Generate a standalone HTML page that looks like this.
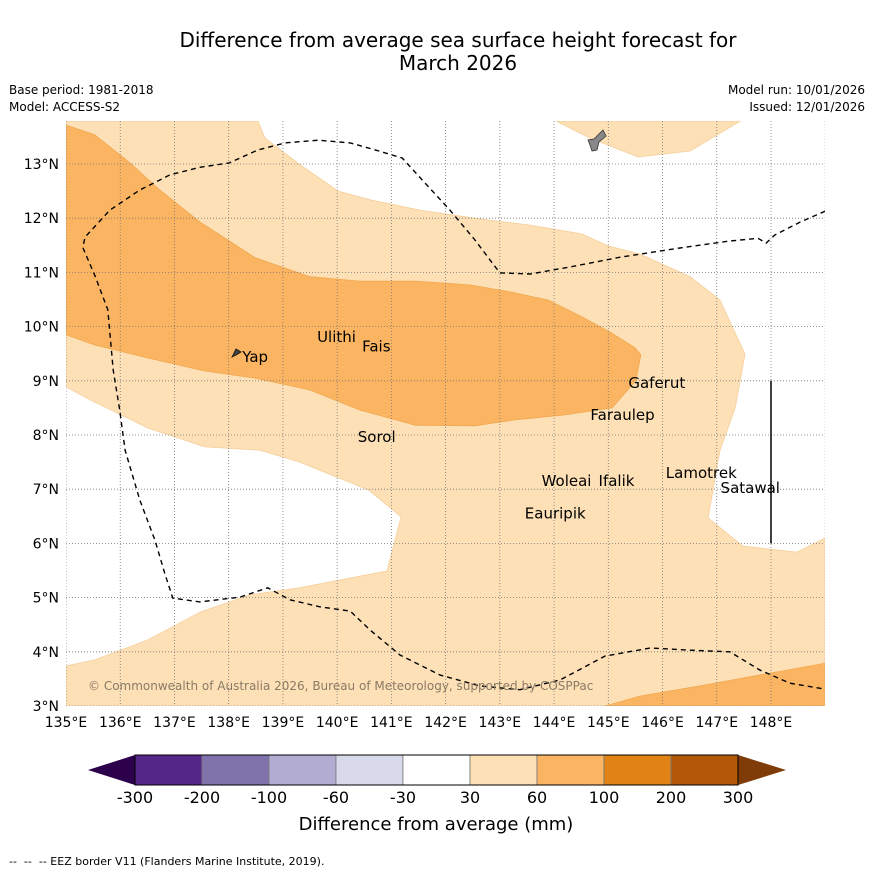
<!DOCTYPE html>
<html><head><meta charset="utf-8"><style>
body{margin:0;background:#fff;}
svg{display:block;font-family:"DejaVu Sans","Liberation Sans",sans-serif;}
</style></head><body>
<svg id="fig" width="873" height="873" viewBox="0 0 873 873">
<rect width="873" height="873" fill="#fff"/>
<text x="458" y="47" font-size="20" text-anchor="middle">Difference from average sea surface height forecast for</text>
<text x="458" y="70" font-size="20" text-anchor="middle">March 2026</text>
<text x="9" y="94" font-size="12">Base period: 1981-2018</text>
<text x="9" y="111" font-size="12">Model: ACCESS-S2</text>
<text x="865" y="94" font-size="12" text-anchor="end">Model run: 10/01/2026</text>
<text x="865" y="111" font-size="12" text-anchor="end">Issued: 12/01/2026</text>
<defs><clipPath id="mapclip"><rect x="66" y="121" width="759" height="585"/></clipPath></defs>
<g id="map" clip-path="url(#mapclip)"></g>
<g id="axes"></g>
<g id="cbar"></g>
<text x="436" y="830" font-size="18" text-anchor="middle">Difference from average (mm)</text>
<text x="9" y="865" font-size="11">-- &#160;-- &#160;-- EEZ border V11 (Flanders Marine Institute, 2019).</text>
</svg>
<script>
const lonTicks=[135,136,137,138,139,140,141,142,143,144,145,146,147,148];
const latTicks=[3,4,5,6,7,8,9,10,11,12,13];
const cbLevels=[-300,-200,-100,-60,-30,30,60,100,200,300];
const cbColors=["#542788","#8073ac","#b2abd2","#d8daeb","#ffffff","#fde0b6","#fbb562","#e08214","#b35806"];
const lightRegion=[[135,13.79],[138.54,13.79],[138.67,13.48],[139.31,12.99],[140.02,12.5],[140.61,12.34],[141.53,12.15],[142.54,12.0],[143.56,11.87],[144.51,11.71],[144.99,11.49],[145.58,11.34],[146.51,10.92],[147.06,10.49],[147.52,9.49],[147.34,8.5],[147.06,7.72],[146.84,6.47],[147.48,5.95],[148.48,5.84],[149,6.1],[149,3],[135,3],[135,3.74],[135.53,3.85],[136.51,4.22],[137.47,4.73],[138.39,5.05],[139.31,5.18],[140.92,5.49],[141.18,6.49],[140.57,6.99],[139.31,7.5],[138.58,7.72],[137.56,7.78],[136.51,8.13],[135.44,8.65],[135,8.89]];
const lightRegionNE=[[144.04,13.79],[144.66,13.48],[145.55,13.13],[146.51,13.24],[147.43,13.79]];
const mediumRegion=[[135,13.72],[135.53,13.54],[136.18,13.02],[136.73,12.52],[137.47,11.93],[138.49,11.27],[139.5,10.92],[140.42,10.84],[141.44,10.84],[142.45,10.77],[143.19,10.64],[143.89,10.49],[144.48,10.2],[145.03,9.9],[145.49,9.61],[145.6,9.48],[145.51,9.01],[145.07,8.5],[144.2,8.37],[143.28,8.28],[142.54,8.17],[141.44,8.18],[140.42,8.46],[139.5,8.83],[138.49,9.05],[137.56,9.18],[136.51,9.42],[135.53,9.66],[135,9.85]];
const mediumRegionSE=[[144.94,3],[145.58,3.18],[146.69,3.37],[149,3.79],[149,3]];
const eezLine=[[149,12.13],[148.54,11.93],[148.07,11.69],[147.91,11.54],[147.76,11.63],[147.24,11.58],[146.32,11.45],[145.22,11.28],[144.29,11.1],[143.56,10.97],[143.0,10.99],[142.54,11.6],[142.08,12.15],[141.62,12.65],[141.2,13.11],[140.7,13.26],[140.24,13.39],[139.65,13.44],[139.04,13.39],[138.54,13.26],[138.01,13.02],[137.47,12.94],[136.92,12.8],[136.36,12.52],[135.81,12.15],[135.35,11.65],[135.31,11.46],[135.53,10.95],[135.77,10.31],[135.87,9.2],[135.99,8.46],[136.09,7.72],[136.36,6.8],[136.64,6.06],[136.83,5.42],[136.97,4.99],[137.47,4.92],[138.21,5.01],[138.72,5.18],[139.13,4.96],[139.68,4.83],[140.24,4.75],[140.61,4.4],[141.16,3.94],[141.9,3.57],[142.63,3.37],[143.37,3.3],[144.11,3.48],[144.94,3.92],[145.77,4.07],[146.51,4.03],[147.24,4.0],[147.8,3.66],[148.35,3.42],[149,3.31]];
const islandNames=["Ulithi","Fais","Yap","Gaferut","Faraulep","Sorol","Woleai","Ifalik","Lamotrek","Satawal","Eauripik"];
const islandLon=[139.63,140.46,138.25,145.37,144.67,140.38,143.77,144.82,146.06,147.07,143.46];
const islandLat=[9.81,9.63,9.44,8.96,8.37,7.96,7.15,7.15,7.3,7.02,6.55];
const NS="http://www.w3.org/2000/svg";
const X=lon=>66+(lon-135)*54.23;
const Y=lat=>706-(lat-3)*54.2;
function mk(tag,attrs,parent){const e=document.createElementNS(NS,tag);for(const k in attrs)e.setAttribute(k,attrs[k]);parent.appendChild(e);return e;}
const pts=a=>a.map(p=>X(p[0]).toFixed(1)+","+Y(p[1]).toFixed(1)).join(" ");
const map=document.getElementById("map");
let e;
e=mk("polygon",{points:pts(lightRegion),fill:cbColors[5],stroke:"#f5cf9c","stroke-width":0.8},map);


e=mk("polygon",{points:pts(lightRegionNE),fill:cbColors[5],stroke:"#f5cf9c","stroke-width":0.8},map);


e=mk("polygon",{points:pts(mediumRegion),fill:cbColors[6],stroke:"#f0a850","stroke-width":0.8},map);


e=mk("polygon",{points:pts(mediumRegionSE),fill:cbColors[6],stroke:"#f0a850","stroke-width":0.8},map);


lonTicks.concat([149]).forEach(l=>{const g=mk("line",{x1:X(l),x2:X(l),y1:121,y2:706,stroke:"#777","stroke-width":0.8,"stroke-dasharray":"1,2"},map);

});
latTicks.forEach(l=>{const g=mk("line",{x1:66,x2:825,y1:Y(l),y2:Y(l),stroke:"#777","stroke-width":0.8,"stroke-dasharray":"1,2"},map);

});
e=mk("polyline",{points:pts(eezLine),fill:"none",stroke:"#000","stroke-width":1.4,"stroke-dasharray":"5,4"},map);


e=mk("line",{x1:X(148),x2:X(148),y1:Y(9),y2:Y(6),stroke:"#000","stroke-width":1.5},map);


e=mk("path",{d:"M603,130 L606,136 L599,142 L597,150 L592,151 L590,145 L588,140 L594,139 Z",fill:"#888",stroke:"#333","stroke-width":0.8},map);


e=mk("path",{d:"M232,357 L236,349 L241,352 L236,355 Z",fill:"#444",stroke:"#111","stroke-width":0.8},map);


islandNames.forEach((n,i)=>{const t=mk("text",{x:X(islandLon[i]),y:Y(islandLat[i])+5,"font-size":15},map);t.textContent=n;

});
e=mk("text",{x:88,y:690,"font-size":12,fill:"#8a7a66"},map);e.textContent="© Commonwealth of Australia 2026, Bureau of Meteorology, supported by COSPPac";


const ax=document.getElementById("axes");
lonTicks.forEach(l=>{const t=mk("text",{x:X(l),y:727,"font-size":14,"text-anchor":"middle"},ax);t.textContent=l+"°E";

});
latTicks.forEach(l=>{const t=mk("text",{x:59,y:Y(l)+5,"font-size":14,"text-anchor":"end"},ax);t.textContent=l+"°N";

});
const cb=document.getElementById("cbar");
const cx0=135,cw=67,cy=755,ch=30;
e=mk("polygon",{points:`${cx0},${cy} ${cx0},${cy+ch} 88,${cy+ch/2}`,fill:"#2d004b"},cb);


const cxEnd=cx0+cw*cbColors.length;
e=mk("polygon",{points:`${cxEnd},${cy} ${cxEnd},${cy+ch} 786,${cy+ch/2}`,fill:"#7f3b08"},cb);


cbColors.forEach((c,i)=>{const r=mk("rect",{x:cx0+i*cw,y:cy,width:cw,height:ch,fill:c,stroke:"#777","stroke-width":0.8},cb);

});
e=mk("rect",{x:cx0,y:cy,width:cw*cbColors.length,height:ch,fill:"none",stroke:"#000","stroke-width":1},cb);


cbLevels.forEach((v,i)=>{const t=mk("text",{x:cx0+i*cw,y:803,"font-size":16,"text-anchor":"middle"},cb);t.textContent=v;

});
</script>
</body></html>
